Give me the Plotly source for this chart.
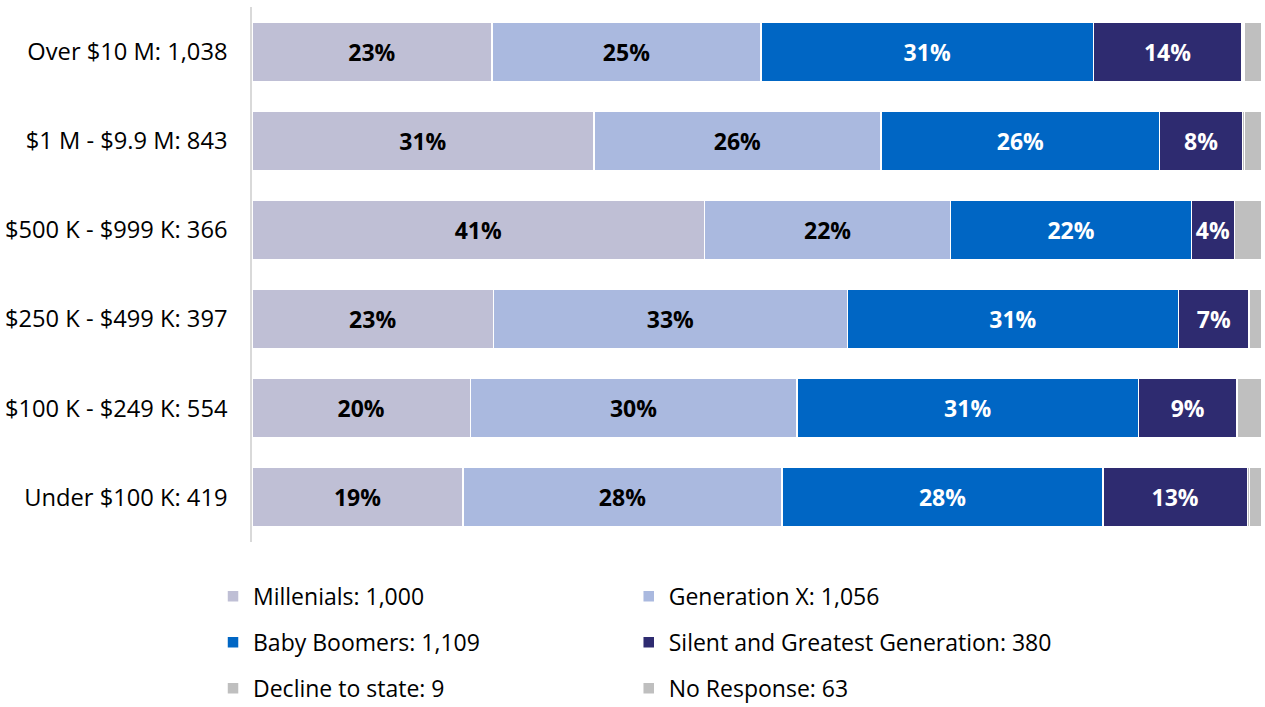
import plotly.graph_objects as go

# Household asset bands (top to bottom) with respondent counts
categories = [
    "Over $10 M: 1,038",
    "$1 M - $9.9 M: 843",
    "$500 K - $999 K: 366",
    "$250 K - $499 K: 397",
    "$100 K - $249 K: 554",
    "Under $100 K: 419",
]

# Share of each band by generation (%), stacked to 100%
millenials = [22.6, 31.4, 41.0, 22.6, 20.0, 18.6]
gen_x = [25.4, 26.4, 22.3, 33.1, 29.9, 28.1]
boomers = [31.3, 25.6, 21.8, 31.0, 31.3, 28.3]
silent = [14.0, 7.6, 3.9, 6.6, 9.0, 12.7]
decline = [0.2, 0.2, 0.0, 0.0, 0.0, 0.2]
no_response = [1.7, 1.6, 2.5, 1.2, 2.3, 1.1]

series_names = [
    "Millenials: 1,000",
    "Generation X: 1,056",
    "Baby Boomers: 1,109",
    "Silent and Greatest Generation: 380",
    "Decline to state: 9",
    "No Response: 63",
]
series_values = [millenials, gen_x, boomers, silent, decline, no_response]
colors = ["#BFBFD5", "#AAB9DF", "#0066C4", "#2E2B70", "#BFBFBF", "#BFBFBF"]
label_colors = ["#000000", "#000000", "#FFFFFF", "#FFFFFF", None, None]
legend_ids = ["legend", "legend2", "legend", "legend2", "legend", "legend2"]

fig = go.Figure()
for i, (name, vals) in enumerate(zip(series_names, series_values)):
    show_text = label_colors[i] is not None
    fig.add_trace(go.Bar(
        y=categories,
        x=vals,
        name=name,
        orientation="h",
        marker=dict(color=colors[i], line=dict(color="#FFFFFF", width=1.5)),
        text=[f"{v:.0f}%" for v in vals] if show_text else None,
        textposition="inside" if show_text else "none",
        insidetextanchor="middle",
        textangle=0,
        constraintext="none",
        textfont=dict(family="Open Sans", size=23, color=label_colors[i] or "#000",
                      weight="bold"),
        legend=legend_ids[i],
        legendgroup=name,
        hoverinfo="skip",
    ))

legend_common = dict(
    orientation="v",
    traceorder="grouped",
    tracegroupgap=13,
    font=dict(family="Open Sans", size=23, color="#000000"),
    bgcolor="rgba(0,0,0,0)",
    xref="paper",
    yref="paper",
    yanchor="top",
    y=-0.0615,
)

fig.update_layout(
    width=1265,
    height=707,
    margin=dict(l=252, r=3, t=7, b=165, autoexpand=False),
    paper_bgcolor="#FFFFFF",
    plot_bgcolor="#FFFFFF",
    barmode="stack",
    barnorm="percent",
    bargap=0.333,
    showlegend=True,
    legend=dict(x=-0.0386, xanchor="left", **legend_common),
    legend2=dict(x=0.373, xanchor="left", **legend_common),
    xaxis=dict(range=[0, 100], visible=False, fixedrange=True),
    yaxis=dict(
        categoryorder="array",
        categoryarray=categories,
        autorange="reversed",
        showline=True,
        linecolor="#D9D9D9",
        linewidth=1.5,
        showgrid=False,
        ticks="",
        ticklabelstandoff=18,
        tickfont=dict(family="Open Sans", size=23.7, color="#000000"),
    ),
    font=dict(family="Open Sans"),
)

fig.write_html("out.html")
